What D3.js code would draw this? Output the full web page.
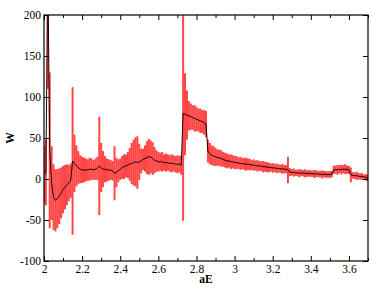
<!DOCTYPE html>
<html><head><meta charset="utf-8">
<script src="https://cdn.jsdelivr.net/npm/d3@7"></script>
<style>
html,body{margin:0;padding:0;background:#fff;}
svg{display:block;}
text{font-family:"Liberation Serif","Times New Roman",serif;fill:#000;}
</style></head>
<body><svg id="c" width="387" height="299"></svg>
<script>
// aE grid: start and step of the sampled points
const xStart = 2.00, xStep = 0.01;
// mean W (black line)
const meanW = [
 5, 8, 260, 35, -5, -22, -26, -24, -21, -17,
 -13, -10, -7, -5, -2, 22, 19, 16, 14, 12,
 11, 11, 11, 11, 12, 12, 11, 12, 13, 16,
 14, 12, 12, 11, 11, 11, 10, 7, 8, 10,
 12, 14, 15, 16, 17, 18, 19, 20, 21, 20,
 21, 22, 24, 25, 26, 27, 27, 25, 23, 22,
 21, 21, 21, 20, 20, 20, 19, 19, 19, 18,
 18, 18, 17, 80, 79, 78, 77, 76, 75, 74,
 73, 72, 71, 70, 69, 67, 34, 31, 29, 28,
 27, 26, 26, 25, 24, 23, 22, 22, 21, 21,
 20, 20, 19.5, 19, 19, 18.5, 18, 18, 17.5, 17,
 17, 16.5, 16, 16, 15.5, 15, 15, 14.5, 14, 14,
 13.5, 13.5, 13, 13, 12.5, 12.5, 12, 12, 11, 8.5,
 8, 8, 7.5, 7.5, 7, 7.5, 7, 7, 6.5, 7,
 6.5, 6.5, 6, 6.5, 6, 6, 5.5, 6, 5.5, 5.5,
 5.5, 6, 11, 11.5, 11, 12, 11.5, 12, 12, 11.5,
 11, 5, 4.5, 4, 4, 3.5, 3, 3, 2.5, 2,
 1
];
// error half-widths (red bars)
const errW = [
 35, 40, 150, 95, 45, 40, 38, 36, 34, 31,
 29, 27, 25, 22, 21, 90, 35, 25, 20, 17,
 16, 15, 14, 13, 14, 13, 12, 13, 14, 60,
 30, 22, 16, 14, 13, 12, 12, 33, 18, 14,
 13, 14, 15, 14, 16, 20, 25, 28, 30, 32,
 22, 15, 13, 16, 20, 22, 20, 20, 16, 13,
 12, 11, 12, 10, 11, 10, 10, 11, 10, 10,
 11, 10, 12, 131, 50, 30, 18, 16, 15, 16,
 15, 14, 15, 14, 15, 16, 14, 13, 12, 12,
 11, 10, 10, 10, 9, 9, 9, 8, 9, 8,
 8, 8, 7, 8, 7, 7, 8, 7, 7, 6,
 7, 6, 7, 6, 6, 7, 6, 6, 6, 5,
 6, 5, 6, 5, 5, 6, 5, 5, 16, 5,
 4, 5, 4, 4, 5, 4, 4, 5, 4, 4,
 4, 4, 5, 4, 4, 4, 5, 4, 4, 4,
 4, 4, 5, 5, 6, 5, 6, 5, 6, 5,
 5, 9, 4, 4, 5, 4, 4, 4, 3, 4,
 4
];
const xTicks = [2, 2.2, 2.4, 2.6, 2.8, 3, 3.2, 3.4, 3.6];
const xMinor = [2.1, 2.3, 2.5, 2.7, 2.9, 3.1, 3.3, 3.5, 3.7];
const yTicks = [-100, -50, 0, 50, 100, 150, 200];

const data = meanW.map((m, i) => ({x: xStart + i * xStep, m: m, e: errW[i]}));

const L = 44, R = 368, T = 15, B = 261;
const x = d3.scaleLinear().domain([2, 3.7]).range([L, R]);
const y = d3.scaleLinear().domain([-100, 200]).range([B, T]);
const svg = d3.select("#c");

svg.append("clipPath").attr("id", "clip").append("rect")
  .attr("x", L).attr("y", T).attr("width", R - L).attr("height", B - T);

const g = svg.append("g").attr("clip-path", "url(#clip)");
g.selectAll("line.err").data(data).enter().append("line")
  .attr("x1", d => x(d.x)).attr("x2", d => x(d.x))
  .attr("y1", d => y(d.m - d.e)).attr("y2", d => y(d.m + d.e))
  .attr("stroke", "#ff0000").attr("stroke-opacity", 0.72).attr("stroke-width", 2);

g.append("path").datum(data)
  .attr("d", d3.line().x(d => x(d.x)).y(d => y(d.m)))
  .attr("fill", "none").attr("stroke", "#200000").attr("stroke-width", 1);

// frame
svg.append("rect").attr("x", L).attr("y", T).attr("width", R - L).attr("height", B - T)
  .attr("fill", "none").attr("stroke", "#000").attr("stroke-width", 1.2);

// axes (ticks inside)
const fmt = d => String(d);
svg.append("g").attr("transform", `translate(0,${B})`)
  .call(d3.axisBottom(x).tickValues(xTicks).tickSize(-5).tickPadding(4).tickFormat(fmt))
  .call(a => a.select(".domain").remove());
svg.append("g").attr("transform", `translate(0,${B})`)
  .call(d3.axisBottom(x).tickValues(xMinor).tickSize(-3).tickFormat(""))
  .call(a => a.select(".domain").remove());
svg.append("g").attr("transform", `translate(0,${T})`)
  .call(d3.axisTop(x).tickValues(xTicks).tickSize(-5).tickFormat(""))
  .call(a => a.select(".domain").remove());
svg.append("g").attr("transform", `translate(0,${T})`)
  .call(d3.axisTop(x).tickValues(xMinor).tickSize(-3).tickFormat(""))
  .call(a => a.select(".domain").remove());
svg.append("g").attr("transform", `translate(${L},0)`)
  .call(d3.axisLeft(y).tickValues(yTicks).tickSize(-5).tickPadding(3).tickFormat(fmt))
  .call(a => a.select(".domain").remove());
svg.append("g").attr("transform", `translate(${R},0)`)
  .call(d3.axisRight(y).tickValues(yTicks).tickSize(-5).tickFormat(""))
  .call(a => a.select(".domain").remove());

svg.selectAll(".tick text").attr("font-family", "Liberation Serif, serif").attr("font-size", 11.5).attr("fill", "#000");
svg.selectAll(".tick line").attr("stroke", "#000");

svg.append("text").attr("x", (L + R) / 2).attr("y", 283).attr("text-anchor", "middle")
  .attr("font-size", 11.5).attr("font-weight", "bold").text("aE");
svg.append("text").attr("transform", `translate(14,${(T + B) / 2}) rotate(-90)`)
  .attr("text-anchor", "middle").attr("font-size", 11.5).attr("font-weight", "bold").text("W");
</script></body></html>
